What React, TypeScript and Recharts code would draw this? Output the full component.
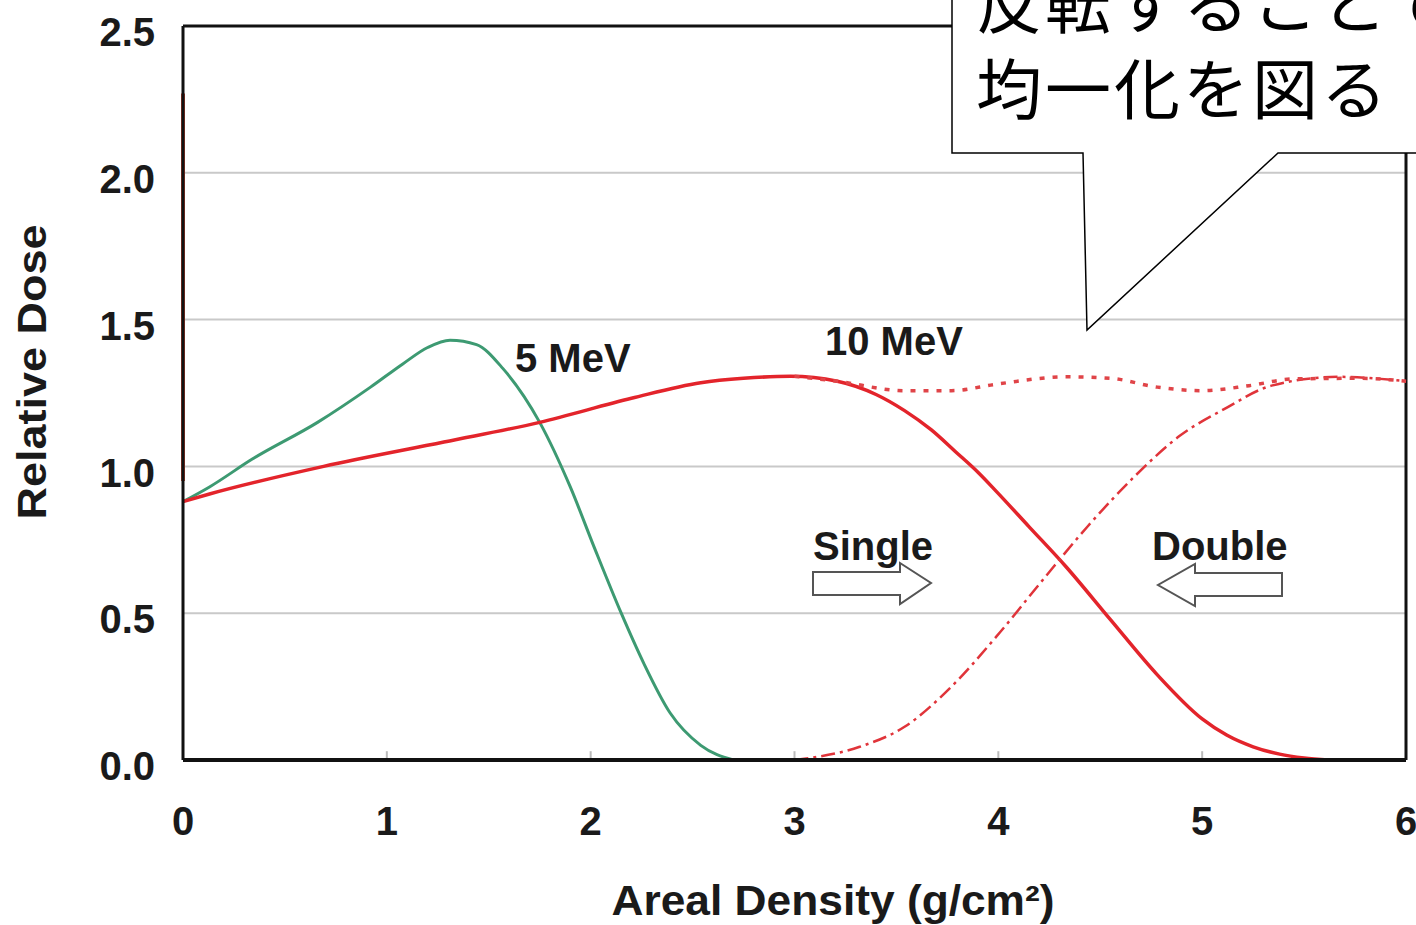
import { CartesianGrid, Label, Line, LineChart, ReferenceLine, XAxis, YAxis } from "recharts";

// [areal density g/cm², relative dose]
const dose5MeV: [number, number][] = [
  [0, 0.88], [0.13, 0.93], [0.34, 1.025], [0.66, 1.15], [0.92, 1.27], [1.08, 1.35],
  [1.2, 1.405], [1.31, 1.43], [1.44, 1.415], [1.57, 1.333], [1.75, 1.15], [1.9, 0.93],
  [2.02, 0.72], [2.15, 0.5], [2.26, 0.33], [2.39, 0.16], [2.54, 0.05], [2.7, 0.0],
];
const dose10MeVSingle: [number, number][] = [
  [0, 0.88], [0.13, 0.906], [0.69, 1.0], [1.28, 1.083], [1.75, 1.15], [2.2, 1.232],
  [2.54, 1.285], [2.75, 1.3], [2.98, 1.307], [3.21, 1.29], [3.4, 1.245], [3.54, 1.19],
  [3.67, 1.125], [3.79, 1.05], [3.9, 0.98], [3.99, 0.915], [4.15, 0.795], [4.33, 0.66],
  [4.55, 0.478], [4.78, 0.29], [5.0, 0.14], [5.12, 0.085], [5.25, 0.045], [5.38, 0.02],
  [5.5, 0.007], [5.62, 0.0],
];
const dose10MeVReverse: [number, number][] = [
  [3.0, 0.0], [3.32, 0.045], [3.54, 0.113], [3.77, 0.25], [3.99, 0.42], [4.22, 0.615],
  [4.44, 0.797], [4.67, 0.967], [4.89, 1.104], [5.11, 1.196], [5.34, 1.275], [5.67, 1.305], [6.0, 1.29],
];
const dose10MeVDouble: [number, number][] = [
  [3.0, 1.307], [3.21, 1.29], [3.54, 1.258], [3.77, 1.258], [3.99, 1.28], [4.33, 1.305],
  [4.55, 1.3], [4.78, 1.27], [5.0, 1.258], [5.23, 1.275], [5.45, 1.298], [5.78, 1.3], [6.0, 1.29],
];
const surfaceSpike: [number, number][] = [[0, 0.95], [0, 2.27]];

const xTicks = [0, 1, 2, 3, 4, 5, 6];
const yTicks = [0, 0.5, 1, 1.5, 2, 2.5];
const minorTicks = [1, 2, 3, 4, 5];

const toRows = (pts: [number, number][]) => pts.map(([x, y]) => ({ x, y }));

const FONT = "'Liberation Sans', Arial, sans-serif";
const tickStyle = { fontSize: 40, fontWeight: 700, fill: "#1a1a1a", fontFamily: FONT };

function Annotations() {
  return (
    <svg width={1416} height={925} style={{ position: "absolute", left: 0, top: 0, pointerEvents: "none" }}>
      <g fontFamily={FONT} fontWeight={700} fontSize={40} fill="#1a1a1a">
        <text x={515} y={372}>5 MeV</text>
        <text x={825} y={355}>10 MeV</text>
        <text x={813} y={560}>Single</text>
        <text x={1152} y={560}>Double</text>
      </g>
      <polygon
        points="813,572 900,572 900,563 931,583 900,604 900,595 813,595"
        fill="#fff" stroke="#555" strokeWidth={2}
      />
      <polygon
        points="1282,573 1195,573 1195,564 1158,585 1195,606 1195,596 1282,596"
        fill="#fff" stroke="#555" strokeWidth={2}
      />
      <polygon
        points="952,-5 1425,-5 1425,153 1278,153 1087,330 1083,153 952,153"
        fill="#fff" stroke="#000" strokeWidth={1.5}
      />
      <g fontFamily="'Noto Sans CJK JP', sans-serif" fontSize={66} fill="#000" letterSpacing={3}>
        <text x={976} y={28}>反転することで</text>
        <text x={976} y={114}>均一化を図る</text>
      </g>
    </svg>
  );
}

export default function App() {
  return (
    <div style={{ position: "absolute", left: 0, top: 0, width: 1416, height: 925, background: "#fff" }}>
      <LineChart width={1416} height={925} margin={{ top: 26, right: 10, bottom: 0, left: 0 }}>
        <CartesianGrid horizontal vertical={false} stroke="#c9c9c9" strokeWidth={2} />
        <XAxis
          type="number"
          dataKey="x"
          domain={[0, 6]}
          ticks={xTicks}
          height={165}
          tickLine={false}
          tickSize={0}
          tickMargin={47}
          axisLine={{ stroke: "#111", strokeWidth: 4 }}
          tick={tickStyle}
          allowDuplicatedCategory={false}
        >
          <Label
            content={() => (
              <text
                x={833}
                y={915}
                textAnchor="middle"
                fontFamily={FONT}
                fontWeight={700}
                fontSize={42}
                fill="#1a1a1a"
                textLength={443}
                lengthAdjust="spacingAndGlyphs"
              >
                Areal Density (g/cm²)
              </text>
            )}
          />
        </XAxis>
        <YAxis
          type="number"
          domain={[0, 2.5]}
          ticks={yTicks}
          width={183}
          tickLine={false}
          tickSize={0}
          tickMargin={28}
          axisLine={{ stroke: "#111", strokeWidth: 3 }}
          tick={{ ...tickStyle, dy: 6 }}
          tickFormatter={(v: number) => v.toFixed(1)}
        >
          <Label
            content={() => (
              <text
                x={46}
                y={372}
                transform="rotate(-90, 46, 372)"
                textAnchor="middle"
                fontFamily={FONT}
                fontWeight={700}
                fontSize={40}
                fill="#1a1a1a"
                textLength={295}
                lengthAdjust="spacingAndGlyphs"
              >
                Relative Dose
              </text>
            )}
          />
        </YAxis>
        <ReferenceLine y={2.5} stroke="#111" strokeWidth={3} />
        <ReferenceLine x={6} stroke="#111" strokeWidth={3} />
        {minorTicks.map((t) => (
          <ReferenceLine key={t} segment={[{ x: t, y: 0 }, { x: t, y: 0.03 }]} stroke="#bbb" strokeWidth={2} />
        ))}
        <Line
          data={toRows(dose5MeV)}
          dataKey="y"
          type="monotone"
          stroke="#3d9a72"
          strokeWidth={3}
          dot={false}
          isAnimationActive={false}
        />
        <Line
          data={toRows(dose10MeVSingle)}
          dataKey="y"
          type="monotone"
          stroke="#e3242b"
          strokeWidth={3.5}
          dot={false}
          isAnimationActive={false}
        />
        <Line
          data={toRows(dose10MeVReverse)}
          dataKey="y"
          type="monotone"
          stroke="#e0343a"
          strokeWidth={2.5}
          strokeDasharray="14 5 3 5"
          dot={false}
          isAnimationActive={false}
        />
        <Line
          data={toRows(dose10MeVDouble)}
          dataKey="y"
          type="monotone"
          stroke="#e04448"
          strokeWidth={3.5}
          strokeDasharray="5 8"
          dot={false}
          isAnimationActive={false}
        />
        <Line
          data={toRows(surfaceSpike)}
          dataKey="y"
          type="linear"
          stroke="#b8402a"
          strokeWidth={4}
          dot={false}
          isAnimationActive={false}
        />
      </LineChart>
      <Annotations />
    </div>
  );
}
